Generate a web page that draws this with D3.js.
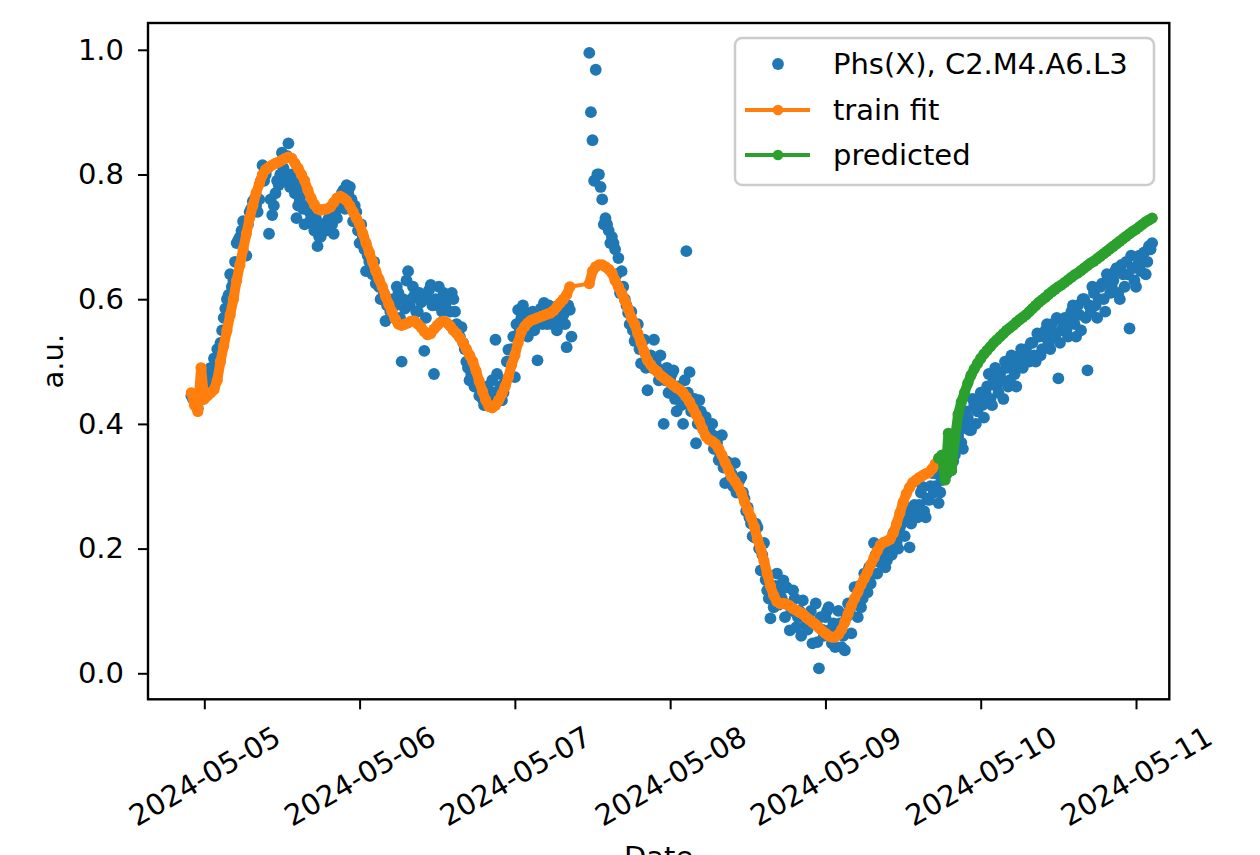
<!DOCTYPE html>
<html><head><meta charset="utf-8">
<script src="https://cdn.jsdelivr.net/npm/d3@7"></script>
<style>
body{margin:0;background:#fff}
svg{display:block}
text{font-family:"DejaVu Sans",sans-serif;fill:#000}
</style>
</head><body>
<svg id="chart" width="1260" height="855"></svg>
<script>
// ---- data ----
const sampleStart = "2024-05-04T22:00:00Z";
const sampleStepMinutes = 30;

// Phs(X) samples on the full half-hours
const phsValues = [
0.445,0.44,0.425,0.46,0.455,0.47,0.49,0.505,0.52,0.53,
0.57,0.60,0.64,0.63,0.69,0.70,0.725,0.67,0.74,0.757,
0.75,0.76,0.815,0.80,0.705,0.735,0.77,0.783,0.835,0.79,
0.85,0.80,0.77,0.75,0.78,0.72,0.75,0.73,0.71,0.685,
0.70,0.72,0.725,0.71,0.705,0.73,0.76,0.775,0.783,0.78,
0.725,0.74,0.69,0.70,0.645,0.66,0.64,0.625,0.62,0.60,
0.565,0.60,0.575,0.59,0.61,0.50,0.585,0.645,0.60,0.607,
0.58,0.595,0.517,0.60,0.623,0.48,0.59,0.60,0.61,0.607,
0.58,0.60,0.56,0.54,0.53,0.50,0.47,0.49,0.46,0.445,
0.44,0.43,0.45,0.47,0.535,0.44,0.438,0.47,0.519,0.52,
0.475,0.583,0.57,0.58,0.54,0.565,0.55,0.502,0.585,0.594,
0.56,0.57,0.58,0.55,0.56,0.575,0.523,0.583,
null,null,null,null,null,
0.995,0.855,0.968,0.80,0.76,0.73,0.71,
0.70,0.68,0.666,0.645,0.60,0.578,0.58,0.533,0.56,0.497,
0.535,0.454,0.51,0.535,0.49,0.51,0.40,0.49,0.47,0.486,
0.42,0.45,0.40,0.677,0.483,0.43,0.369,0.438,0.41,0.411,
0.40,0.40,0.38,0.342,0.382,0.305,0.33,0.32,0.337,0.31,
0.315,0.28,0.266,0.24,0.218,0.234,0.165,0.209,0.133,0.088,
0.106,0.16,0.13,0.149,0.138,0.069,0.133,0.074,0.10,0.117,
0.08,0.095,0.048,0.112,0.008,0.07,0.09,0.106,0.048,0.042,
0.10,0.042,0.037,0.112,0.064,0.138,0.09,0.106,0.16,0.13,
0.144,0.209,0.16,0.177,0.19,0.181,0.20,0.225,0.21,0.234,
0.25,0.266,0.202,0.255,0.266,0.27,0.299,0.25,0.278,0.321,
0.30,0.273,0.31,0.34,0.33,0.36,0.35,0.38,0.37,0.40,
0.41,0.39,0.43,0.42,0.45,0.41,0.46,0.44,0.47,0.46,
0.48,0.44,0.49,0.47,0.50,0.46,0.51,0.49,0.52,0.50,
0.53,0.50,0.54,0.52,0.55,0.53,0.56,0.54,0.473,0.55,
0.57,0.54,0.58,0.56,0.59,0.55,0.60,0.486,0.58,0.61,
0.57,0.62,0.60,0.64,0.61,0.63,0.65,0.60,0.64,0.66,
0.553,0.65,0.62,0.67,0.66,0.64,0.685,0.69
];

// Phs(X) samples a quarter hour after each half-hour sample
const phsMidValues = [
0.44,0.43,0.45,0.44,0.46,0.48,0.47,0.50,0.51,
0.55,0.585,0.607,0.62,0.66,0.695,0.71,0.70,0.72,0.745,0.76,0.74,0.79,
0.79,0.81,0.76,0.75,0.79,0.80,0.81,0.83,0.78,0.79,0.73,0.76,0.745,0.77,0.74,0.72,0.73,0.70,
0.715,0.71,0.73,0.72,0.74,0.75,0.77,0.745,0.77,0.76,
0.75,0.71,0.72,0.68,0.67,0.65,0.66,0.63,0.60,0.61,
0.59,0.58,0.60,0.62,0.57,0.60,0.63,0.59,0.62,0.58,
0.61,0.60,0.57,0.615,0.59,0.60,0.62,0.58,0.59,0.60,
0.61,0.58,0.55,0.555,0.52,0.49,0.48,0.46,0.47,0.45,
0.43,0.46,0.44,0.45,0.48,0.46,0.45,0.50,0.50,0.54,
0.56,0.55,0.59,0.56,0.57,0.58,0.56,0.57,0.56,0.57,
0.59,0.56,0.57,0.59,0.58,0.56,0.59,0.54,
null,null,null,null,null,
0.90,0.79,0.80,0.78,0.72,0.72,0.69,
0.69,0.64,0.61,0.62,0.59,0.56,0.55,0.54,0.52,0.535,
0.49,0.50,0.49,0.50,0.47,0.48,0.47,0.45,0.48,0.44,
0.46,0.43,0.47,0.45,0.42,0.44,0.40,0.42,0.39,0.38,
0.385,0.36,0.37,0.35,0.33,0.34,0.31,0.30,0.29,0.31,
0.29,0.26,0.25,0.22,0.24,0.20,0.19,0.15,0.12,0.13,
0.14,0.11,0.12,0.09,0.11,0.10,0.12,0.09,0.06,0.09,
0.07,0.10,0.08,0.05,0.09,0.06,0.10,0.07,0.08,0.065,
0.08,0.06,0.09,0.10,0.11,0.12,0.14,0.12,0.15,0.17,
0.16,0.19,0.18,0.20,0.17,0.21,0.19,0.22,0.20,0.24,
0.22,0.26,0.24,0.27,0.25,0.29,0.26,0.28,0.30,0.29,
0.32,0.29,0.33,0.32,0.35,0.34,0.37,0.39,0.36,0.42,
0.39,0.44,0.40,0.44,0.43,0.45,0.48,0.43,0.49,0.45,
0.47,0.50,0.46,0.51,0.48,0.49,0.52,0.50,0.51,0.53,
0.51,0.545,0.51,0.54,0.56,0.52,0.545,0.57,0.53,0.56,
0.55,0.57,0.59,0.54,0.575,0.60,0.57,0.59,0.62,0.59,
0.60,0.625,0.58,0.63,0.62,0.645,0.61,0.655,0.62,0.64,
0.67,0.63,0.655,0.645,0.675,0.66,0.68
];

const trainFitValues = [
0.45,0.43,0.42,0.49,0.44,0.445,0.45,0.455,0.47,0.50,
0.525,0.55,0.575,0.60,0.63,0.655,0.68,0.705,0.73,0.75,
0.77,0.785,0.80,0.808,0.812,0.815,0.818,0.82,0.823,0.826,
0.828,0.826,0.818,0.81,0.80,0.79,0.775,0.762,0.752,0.745,
0.743,0.744,0.745,0.748,0.755,0.762,0.765,0.762,0.758,0.75,
0.74,0.73,0.72,0.705,0.69,0.675,0.66,0.645,0.632,0.62,
0.605,0.592,0.58,0.568,0.56,0.558,0.56,0.562,0.565,0.565,
0.56,0.555,0.548,0.543,0.545,0.552,0.558,0.563,0.565,0.562,
0.557,0.55,0.545,0.538,0.53,0.52,0.51,0.50,0.485,0.468,
0.452,0.438,0.428,0.426,0.43,0.438,0.448,0.46,0.475,0.495,
0.51,0.53,0.548,0.556,0.562,0.566,0.568,0.57,0.572,0.574,
0.576,0.578,0.582,0.588,0.594,0.60,0.607,0.62,
null,null,null,null,null,
0.625,0.645,0.652,0.655,0.655,0.652,0.648,
0.642,0.63,0.62,0.61,0.598,0.585,0.57,0.56,0.545,0.53,
0.515,0.502,0.495,0.488,0.484,0.478,0.474,0.47,0.466,0.462,
0.458,0.455,0.45,0.443,0.435,0.425,0.415,0.405,0.392,0.38,
0.375,0.372,0.368,0.36,0.35,0.338,0.327,0.315,0.308,0.30,
0.29,0.275,0.262,0.25,0.235,0.215,0.20,0.18,0.16,0.14,
0.125,0.115,0.112,0.112,0.111,0.108,0.104,0.101,0.098,0.095,
0.09,0.086,0.082,0.078,0.073,0.068,0.064,0.06,0.058,0.058,
0.062,0.07,0.082,0.095,0.108,0.12,0.13,0.142,0.152,0.162,
0.174,0.185,0.196,0.206,0.21,0.212,0.215,0.225,0.24,0.257,
0.274,0.288,0.298,0.306,0.31,0.314,0.317,0.32,0.322,0.328,
0.336,0.342
];

const predictedStartIndex = 231;
const predictedValues = [
0.345,0.35,0.31,0.385,0.325,0.375,0.415,0.435,0.45,
0.465,0.478,0.488,0.497,0.505,0.512,0.518,0.524,0.53,0.535,
0.54,0.545,0.55,0.554,0.558,0.563,0.567,0.571,0.575,0.58,
0.585,0.59,0.595,0.599,0.603,0.608,0.612,0.616,0.62,0.623,
0.627,0.631,0.635,0.639,0.642,0.646,0.65,0.654,0.658,0.661,
0.665,0.669,0.673,0.677,0.681,0.685,0.689,0.693,0.697,0.701,
0.705,0.709,0.712,0.716,0.72,0.724,0.727,0.73
];

const xTickLabels = ["2024-05-05","2024-05-06","2024-05-07","2024-05-08","2024-05-09","2024-05-10","2024-05-11"];
const yTickValues = [0.0,0.2,0.4,0.6,0.8,1.0];
const seriesNames = ["Phs(X), C2.M4.A6.L3","train fit","predicted"];
const colors = ["#1f77b4","#ff7f0e","#2ca02c"];
const xLabelText = "Date";
const yLabelText = "a.u.";

// ---- build ----
const t0 = new Date(sampleStart);
const timeAt = (i, extraMin) => d3.utcMinute.offset(t0, i*sampleStepMinutes + (extraMin||0));
const toRaw = (arr, off, extraMin) => arr.map((v,k)=>({t:timeAt(k+off, extraMin), v}));
const phsPts = toRaw(phsValues,0,0).concat(toRaw(phsMidValues,0,15))
  .filter(d=>d.v!==null).sort((a,b)=>a.t-b.t);
const fitRaw = toRaw(trainFitValues,0,0);
const predRaw = toRaw(predictedValues,predictedStartIndex,0);

const svg = d3.select("#chart");
svg.append("rect").attr("width",1260).attr("height",855).attr("fill","#fff");

const L=148, R=1169.3, T=23, B=699.3;
const xTicks = xTickLabels.map(s=>new Date(s+"T00:00:00Z"));
const x = d3.scaleUtc().domain([xTicks[0], xTicks[xTicks.length-1]]).range([204.3,1136]);
const y = d3.scaleLinear().domain([0,1]).range([673.3,49.8]);

svg.append("clipPath").attr("id","clip").append("rect")
  .attr("x",L).attr("y",T).attr("width",R-L).attr("height",B-T);
const plot = svg.append("g").attr("clip-path","url(#clip)");

plot.append("g").selectAll("circle").data(phsPts).join("circle")
  .attr("cx",d=>x(d.t)).attr("cy",d=>y(d.v)).attr("r",5.9).attr("fill",colors[0]);

const lineAll = d3.line().x(d=>x(d.t)).y(d=>y(d.v));
const lineDense = d3.line().defined(d=>d.v!==null).x(d=>x(d.t)).y(d=>y(d.v));
[[fitRaw,colors[1]],[predRaw,colors[2]]].forEach(([raw,c])=>{
  const pts = raw.filter(d=>d.v!==null);
  // thin connecting line (also bridges the data gap)
  plot.append("path").datum(pts).attr("d",lineAll).attr("fill","none")
    .attr("stroke",c).attr("stroke-width",4).attr("stroke-linejoin","round");
  // densely packed markers read as a thick band where samples are contiguous
  plot.append("path").datum(raw).attr("d",lineDense).attr("fill","none")
    .attr("stroke",c).attr("stroke-width",10).attr("stroke-linejoin","round").attr("stroke-linecap","round");
  plot.append("g").selectAll("circle").data(pts).join("circle")
    .attr("cx",d=>x(d.t)).attr("cy",d=>y(d.v)).attr("r",5.6).attr("fill",c);
});

// frame
svg.append("rect").attr("x",L).attr("y",T).attr("width",R-L).attr("height",B-T)
  .attr("fill","none").attr("stroke","#000").attr("stroke-width",2.4);

// x axis
const gx = svg.append("g").attr("transform",`translate(0,${B})`)
  .call(d3.axisBottom(x).tickValues(xTicks).tickSize(10).tickFormat((d,i)=>xTickLabels[i]));
gx.select(".domain").remove();
gx.selectAll(".tick line").attr("stroke","#000").attr("stroke-width",2);
gx.selectAll(".tick text").attr("y",null).attr("dy",null)
  .attr("transform","translate(0,77) rotate(-30)")
  .attr("text-anchor","middle").attr("dominant-baseline","central")
  .style("font-size","29px").style("font-family","DejaVu Sans");

// y axis
const gy = svg.append("g").attr("transform",`translate(${L},0)`)
  .call(d3.axisLeft(y).tickValues(yTickValues).tickSize(10).tickPadding(14).tickFormat(d3.format(".1f")));
gy.select(".domain").remove();
gy.selectAll(".tick line").attr("stroke","#000").attr("stroke-width",2);
gy.selectAll(".tick text").style("font-size","29px").style("font-family","DejaVu Sans");

// axis labels (the x label is cut by the bottom edge, as in the reference)
svg.append("text").attr("x",(L+R)/2).attr("y",867).attr("text-anchor","middle")
  .style("font-size","29px").text(xLabelText);
svg.append("text").attr("transform",`translate(53,${(T+B)/2}) rotate(-90)`)
  .attr("text-anchor","middle").attr("dominant-baseline","central")
  .style("font-size","29px").text(yLabelText);

// legend
const lg = svg.append("g");
lg.append("rect").attr("x",735).attr("y",38).attr("width",419).attr("height",147).attr("rx",7)
  .attr("fill","#fff").attr("fill-opacity",0.8).attr("stroke","#cccccc").attr("stroke-width",2.5);
const rowsY=[64,110,155];
seriesNames.forEach((name,i)=>{
  const yy=rowsY[i];
  if(i===0){
    lg.append("circle").attr("cx",778).attr("cy",yy).attr("r",5.9).attr("fill",colors[0]);
  } else {
    lg.append("line").attr("x1",745).attr("x2",810).attr("y1",yy).attr("y2",yy)
      .attr("stroke",colors[i]).attr("stroke-width",4);
    lg.append("circle").attr("cx",778).attr("cy",yy).attr("r",5.3).attr("fill",colors[i]);
  }
  lg.append("text").attr("x",833).attr("y",yy).attr("dominant-baseline","central")
    .style("font-size","29px").text(name);
});
</script>
</body></html>
